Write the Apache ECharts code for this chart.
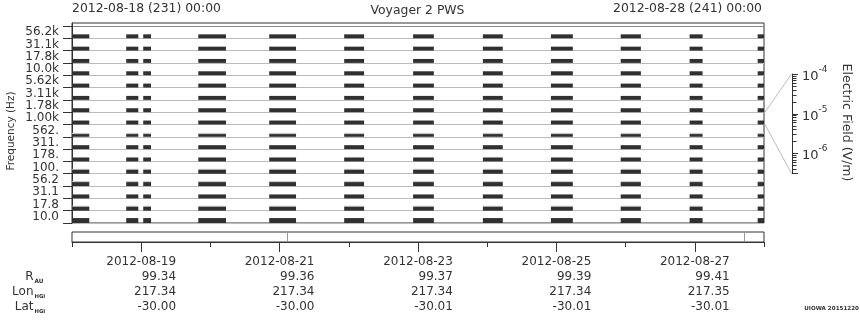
<!DOCTYPE html>
<html><head><meta charset="utf-8">
<script src="https://cdn.jsdelivr.net/npm/echarts@6/dist/echarts.min.js"></script>
<style>html,body{margin:0;padding:0;background:#fff}#c{width:860px;height:320px}</style>
</head><body><div id="c"></div>
<script>
// ---- data ----
const channelLabels = ['10.0','17.8','31.1','56.2','100.','178.','311.','562.','1.00k','1.78k','3.11k','5.62k','10.0k','17.8k','31.1k','56.2k'];
const channelLevel = [0.40,0.32,0.32,0.32,0.32,0.32,0.32,0.22,0.32,0.32,0.32,0.32,0.32,0.32,0.32,0.32];
const channelFuzz  = [0,0.08,0,0.08,0.08,0,0,0.1,0,0,0,0,0,0,0,0];
const segStart = [0,18.8,24.7,43.8,68.4,94.4,118.3,142.5,166.1,190.3,214.2,237.8];
const segEnd   = [6.0,23.0,27.4,53.4,77.7,101.3,125.5,149.4,173.7,197.3,218.7,240];
const dayTicks = [24,72,120,168,216];
const minorDayTicks = [0,48,96,144,192,240];
const dateLabels = ['2012-08-19','2012-08-21','2012-08-23','2012-08-25','2012-08-27'];
const rAU = ['99.34','99.36','99.37','99.39','99.41'];
const lonHGI = ['217.34','217.34','217.34','217.34','217.35'];
const latHGI = ['-30.00','-30.00','-30.01','-30.01','-30.01'];
const markerHours = [74.7, 233.1];
const startLabel = '2012-08-18 (231) 00:00';
const endLabel = '2012-08-28 (241) 00:00';
const titleText = 'Voyager 2 PWS';
const colorbarExp = [-6,-5,-4];
const colorbarRange = [-6.5,-4];
const highlightChannel = 8;

const FONT = 'DejaVu Sans';
const INK = '#333';

const barData = [];
channelLabels.forEach((lab, c) => {
  segStart.forEach((s, i) => barData.push([s, segEnd[i], c, channelLevel[c], channelFuzz[c]]));
});

const cbMinor = [];
[-7,-6,-5].forEach(n => { for (let k = 2; k <= 9; k++) { const v = n + Math.log10(k); if (v > colorbarRange[0] && v < colorbarRange[1]) cbMinor.push(v); } });

const chart = echarts.init(document.getElementById('c'), null, {renderer: 'canvas'});
const splitColors = [];
for (let i = 0; i < 18; i++) splitColors.push(i === 16 ? '#888' : '#bbb');

chart.setOption({
  animation: false,
  textStyle: {fontFamily: FONT, color: INK},
  grid: [
    {left: 72, top: 23, width: 692, height: 200, show: true, borderColor: INK, borderWidth: 1, backgroundColor: 'transparent'},
    {left: 72, top: 232, width: 692, height: 10, show: true, borderColor: INK, borderWidth: 1},
    {left: 792, top: 74, width: 1, height: 99.5, show: false}
  ],
  xAxis: [
    {gridIndex: 0, type: 'value', min: 0, max: 240, show: false},
    {gridIndex: 1, type: 'value', min: 0, max: 240, position: 'bottom',
     axisLine: {show: true, lineStyle: {color: INK}},
     axisTick: {show: true, customValues: dayTicks, length: 10, lineStyle: {color: INK}},
     splitLine: {show: false},
     axisLabel: {show: true, customValues: dayTicks, margin: 12, color: INK, fontFamily: FONT,
       formatter: (v) => { const i = dayTicks.indexOf(v); if (i < 0) return '';
         return '{d|' + dateLabels[i] + '}\n{n|' + rAU[i] + '}\n{n|' + lonHGI[i] + '}\n{n|' + latHGI[i] + '}'; },
       rich: {d: {align: 'right', fontSize: 12, lineHeight: 15, fontFamily: FONT, color: INK},
              n: {align: 'right', fontSize: 12, lineHeight: 15, fontFamily: FONT, color: INK}}}},
    {gridIndex: 1, type: 'value', min: 0, max: 240, position: 'bottom',
     axisLine: {show: false}, axisLabel: {show: false}, splitLine: {show: false},
     axisTick: {show: true, customValues: minorDayTicks, length: 5, lineStyle: {color: INK}}},
    {gridIndex: 2, type: 'value', min: 0, max: 1, show: false}
  ],
  yAxis: [
    {gridIndex: 0, type: 'value', min: 0, max: 16.24, interval: 1,
     axisLine: {show: true, lineStyle: {color: INK}},
     axisTick: {show: true, customValues: [0,1,2,3,4,5,6,7,8,9,10,11,12,13,14,15,16], length: 9, lineStyle: {color: INK}},
     axisLabel: {show: true, customValues: channelLabels.map((l, i) => i + 0.5), margin: 13, fontSize: 12, color: INK, fontFamily: FONT,
       formatter: (v) => channelLabels[Math.floor(v)] || ''},
     splitLine: {show: true, lineStyle: {color: splitColors, width: 1}}},
    {gridIndex: 1, type: 'value', min: 0, max: 1, show: false},
    {gridIndex: 2, type: 'value', min: colorbarRange[0], max: colorbarRange[1], position: 'right',
     axisLine: {show: true, lineStyle: {color: INK}},
     axisTick: {show: true, customValues: [colorbarRange[0]].concat(colorbarExp), length: 6, lineStyle: {color: INK}},
     axisLabel: {show: true, customValues: colorbarExp, margin: 9, color: INK, fontFamily: FONT,
       formatter: (v) => '{b|10}{s|' + v + '}',
       rich: {b: {fontSize: 13, lineHeight: 18, verticalAlign: 'bottom', fontFamily: FONT, color: INK},
              s: {fontSize: 9, lineHeight: 8, verticalAlign: 'top', fontFamily: FONT, color: INK}}},
     splitLine: {show: false}},
    {gridIndex: 2, type: 'value', min: colorbarRange[0], max: colorbarRange[1], position: 'right',
     axisLine: {show: false}, axisLabel: {show: false}, splitLine: {show: false},
     axisTick: {show: true, customValues: cbMinor, length: 3.5, lineStyle: {color: INK}}}
  ],
  series: [
    {type: 'custom', xAxisIndex: 0, yAxisIndex: 0, data: barData, clip: true,
     encode: {x: [0, 1], y: 2},
     renderItem: (params, api) => {
       const x0 = api.value(0), x1 = api.value(1), c = api.value(2), h = api.value(3), f = api.value(4);
       const p0 = api.coord([x0, c]);
       const p1 = api.coord([x1, c + h]);
       const children = [];
       if (f > 0) {
         const pf = api.coord([x1, c + h + f]);
         children.push({type: 'rect', shape: {x: p0[0], y: pf[1], width: p1[0] - p0[0], height: p1[1] - pf[1]},
                        style: {fill: '#c4c4c4'}});
       }
       children.push({type: 'rect', shape: {x: p0[0], y: p1[1], width: p1[0] - p0[0], height: p0[1] - p1[1]},
               style: {fill: '#303030'}});
       return {type: 'group', children};
     }},
    {type: 'custom', xAxisIndex: 1, yAxisIndex: 1, data: markerHours.map(h => [h]),
     encode: {x: 0},
     renderItem: (params, api) => {
       const a = api.coord([api.value(0), 0]);
       const b = api.coord([api.value(0), 1]);
       return {type: 'line', shape: {x1: Math.round(a[0]) + 0.5, y1: a[1], x2: Math.round(a[0]) + 0.5, y2: b[1]},
               style: {stroke: '#999', lineWidth: 1}};
     }}
  ]
});

// connector lines from highlighted channel to colour bar, and texts
const pTop = chart.convertToPixel({gridIndex: 0}, [240, highlightChannel + 1]);
const pBot = chart.convertToPixel({gridIndex: 0}, [240, highlightChannel]);
const cTop = chart.convertToPixel({gridIndex: 2}, [0, colorbarRange[1]]);
const cBot = chart.convertToPixel({gridIndex: 2}, [0, colorbarRange[0]]);

const txt = (text, x, y, opts) => Object.assign({type: 'text', silent: true,
  style: Object.assign({text, x, y, fill: INK, font: '12px "' + FONT + '"', textVerticalAlign: 'middle'}, opts || {})});

chart.setOption({
  graphic: [
    {type: 'polyline', silent: true, shape: {points: [[pTop[0] + 1, pTop[1]], [cTop[0] - 0.5, cTop[1]]]}, style: {stroke: '#bbb', lineWidth: 1, fill: null}},
    {type: 'polyline', silent: true, shape: {points: [[pBot[0] + 1, pBot[1]], [cBot[0] - 0.5, cBot[1]]]}, style: {stroke: '#bbb', lineWidth: 1, fill: null}},
    txt(startLabel, 72, 8.5, {textAlign: 'left', font: '12.4px "DejaVu Sans"'}),
    txt(endLabel, 762, 8.5, {textAlign: 'right', font: '12.4px "DejaVu Sans"'}),
    txt(titleText, 417.5, 11, {textAlign: 'center', font: '12.4px "DejaVu Sans"'}),
    {type: 'text', silent: true, x: 11.5, y: 131, rotation: Math.PI / 2,
     style: {text: 'Frequency (Hz)', fill: INK, font: '10.5px "DejaVu Sans"', textAlign: 'center', textVerticalAlign: 'middle'}},
    {type: 'text', silent: true, x: 846, y: 122.5, rotation: -Math.PI / 2,
     style: {text: 'Electric Field (V/m)', fill: INK, font: '12.5px "DejaVu Sans"', textAlign: 'center', textVerticalAlign: 'middle'}},
    txt('R', 33.5, 276.7, {textAlign: 'right'}),
    txt('AU', 34.5, 281.5, {textAlign: 'left', font: 'bold 5.8px "DejaVu Sans"'}),
    txt('Lon', 33.5, 291.7, {textAlign: 'right'}),
    txt('HGI', 34.5, 296.5, {textAlign: 'left', font: 'bold 5.3px "DejaVu Sans"'}),
    txt('Lat', 33.5, 306.7, {textAlign: 'right'}),
    txt('HGI', 34.5, 311.5, {textAlign: 'left', font: 'bold 5.3px "DejaVu Sans"'}),
    txt('UIOWA 20151220', 859, 309, {textAlign: 'right', font: 'bold 5.6px "DejaVu Sans"'})
  ]
});
</script></body></html>
